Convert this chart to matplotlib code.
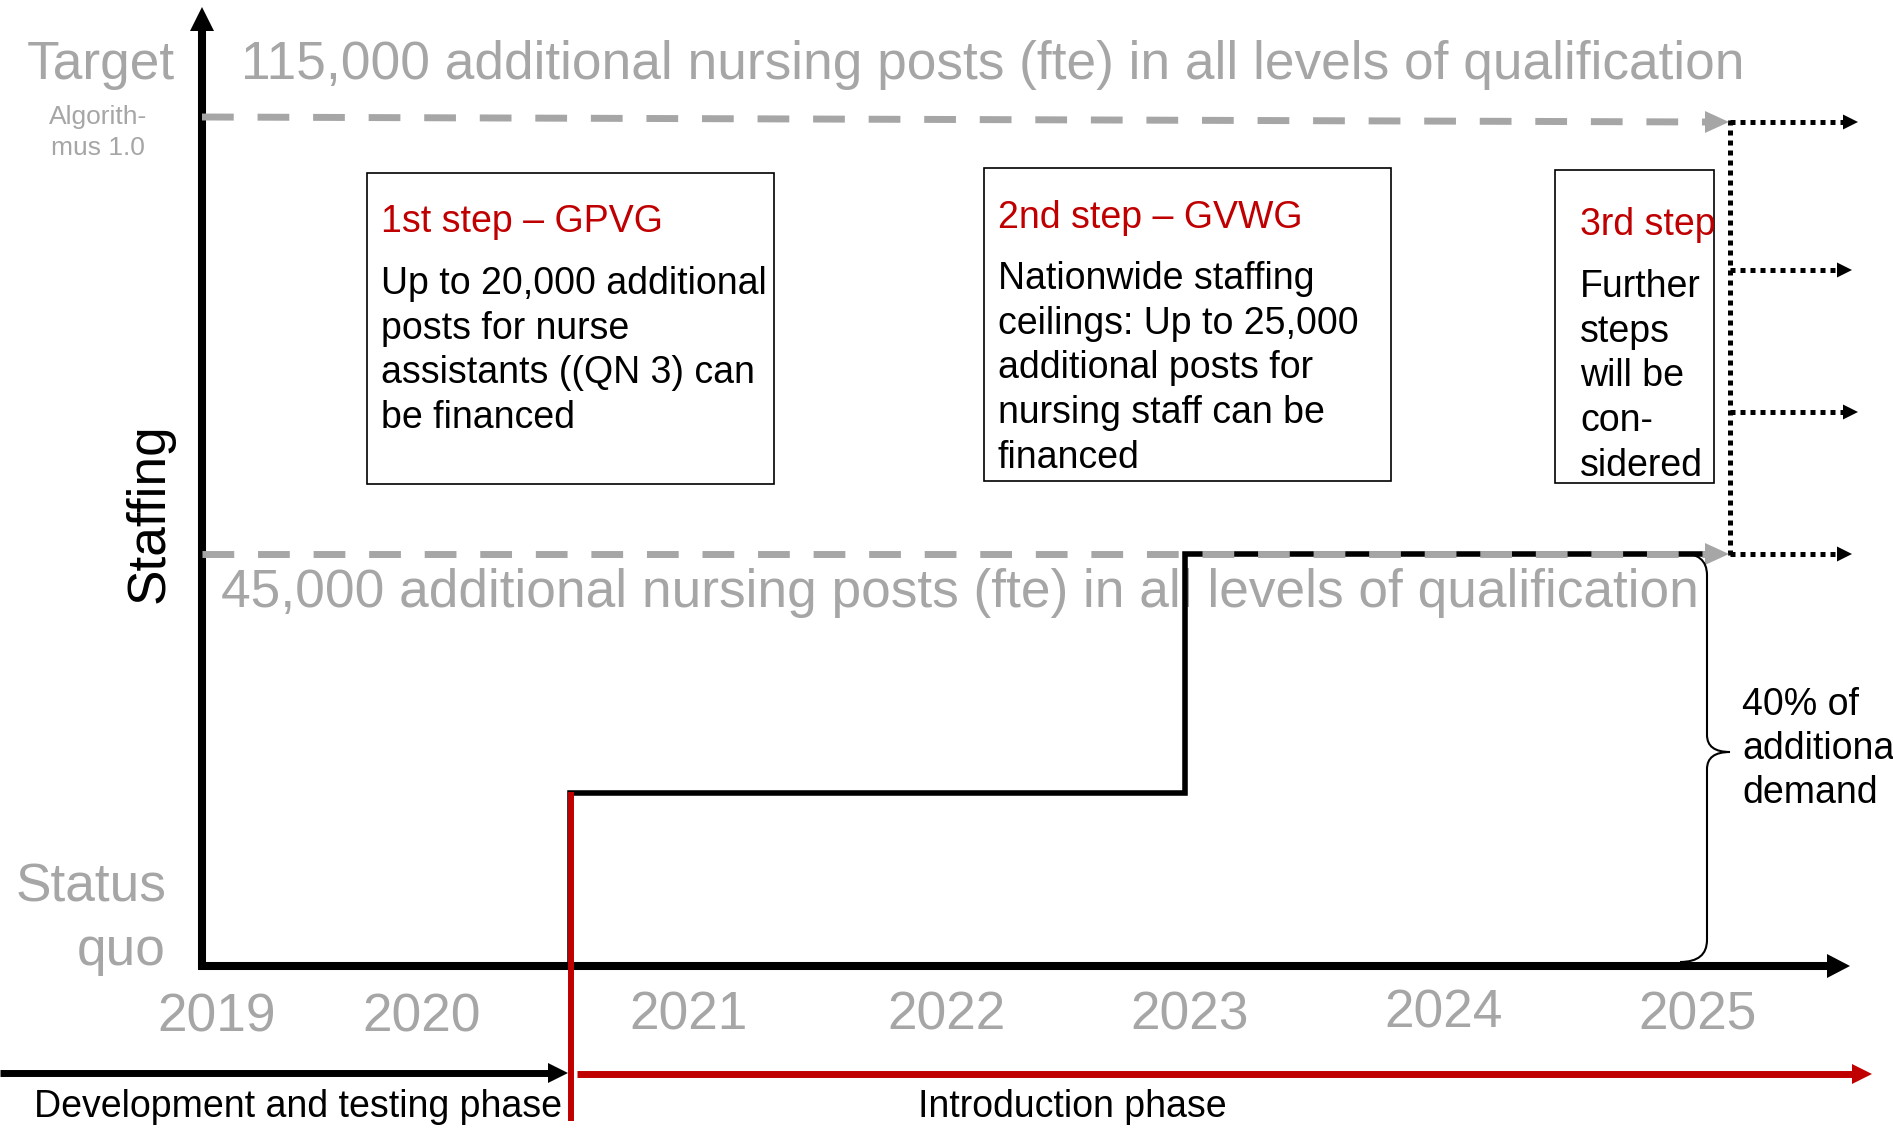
import matplotlib
matplotlib.use("Agg")
import matplotlib.pyplot as plt
from matplotlib.patches import Polygon, Rectangle, PathPatch
from matplotlib.path import Path

plt.rcParams['font.family'] = ['Liberation Sans', 'DejaVu Sans']

# ---------------- data (schematic canvas units, y grows downward) ----------------
years = ['2019', '2020', '2021', '2022', '2023', '2024', '2025']
year_x = [217, 422, 689, 946, 1190, 1444, 1698]
year_base = [1031, 1031, 1030, 1030, 1030, 1027, 1030]

# staffing step line (status quo -> step 1 -> step 2)
step_x = [570, 570, 1185, 1185, 1705]
step_y = [966, 793, 793, 554, 554]

target_line_x = [202, 1705]
target_line_y = [117, 122]
level2_line_x = [202, 1705]
level2_line_y = [554, 554]

future_y = [122, 270, 412, 554]
future_tip = [1858, 1852, 1858, 1852]

target_text = "115,000 additional nursing posts (fte) in all levels of qualification"
level2_text = "45,000 additional nursing posts (fte) in all levels of qualification"

boxes = [
    dict(rect=(367, 173, 407, 311), x=381, title="1st step \u2013 GPVG", tbase=232,
         body=["Up to 20,000 additional", "posts for nurse",
               "assistants ((QN 3) can", "be financed"], bbase=294),
    dict(rect=(984, 168, 407, 313), x=998, title="2nd step \u2013 GVWG", tbase=228,
         body=["Nationwide staffing", "ceilings: Up to 25,000",
               "additional posts for", "nursing staff can be", "financed"], bbase=289),
    dict(rect=(1555, 170, 159, 313), x=1580, title="3rd step", tbase=235,
         body=["Further", "steps", "will be", "con-", "sidered"], bbase=297),
]
share_lines = ["40% of", "additional", "demand"]
phases = ["Development and testing phase", "Introduction phase"]
phase_x = [298, 1072]

GRAY = '#A6A6A6'
RED = '#C00000'
LINE_SP = 44.7
BIG = 38.3
MID = 27.0

fig = plt.figure(figsize=(18.93, 11.31), dpi=100)
ax = fig.add_axes([0, 0, 1, 1])
ax.set_xlim(0, 1893)
ax.set_ylim(1131, 0)
ax.axis('off')


def head(tx, ty, direction, length, half, color, z=5):
    if direction == 'right':
        pts = [(tx, ty), (tx - length, ty - half), (tx - length, ty + half)]
    else:  # up
        pts = [(tx, ty), (tx - half, ty + length), (tx + half, ty + length)]
    ax.add_patch(Polygon(pts, closed=True, facecolor=color, edgecolor='none', zorder=z))


# ---------------- axes ----------------
ax.plot([202, 202, 1828], [30, 966, 966], color='black', lw=5.8,
        solid_joinstyle='miter', solid_capstyle='butt', zorder=4)
head(202, 7, 'up', 24, 12, 'black')
head(1850, 966, 'right', 23, 12, 'black')

# ---------------- step line ----------------
ax.plot(step_x, step_y, color='black', lw=4.0, solid_joinstyle='miter', zorder=3)

# ---------------- dashed gray level lines ----------------
for lx, ly in [(target_line_x, target_line_y), (level2_line_x, level2_line_y)]:
    ax.plot(lx, ly, color=GRAY, lw=5.0, linestyle=(0, (4.57, 3.43)),
            dash_capstyle='butt', zorder=4)
    head(1729, ly[-1], 'right', 24, 11, GRAY)

# ---------------- dotted future arrows ----------------
ax.plot([1730, 1730], [120, 556], color='black', lw=3.6, linestyle=(0, (1, 1)),
        dash_capstyle='butt', zorder=4)
for fy, ft in zip(future_y, future_tip):
    ax.plot([1730, ft - 15], [fy, fy], color='black', lw=3.6, linestyle=(0, (1, 1)),
            dash_capstyle='butt', zorder=4)
    head(ft, fy, 'right', 15, 7.5, 'black')

# ---------------- red phase boundary ----------------
ax.plot([571, 571], [792, 1121], color=RED, lw=4.3, solid_capstyle='butt', zorder=6)

# ---------------- phase arrows ----------------
ax.plot([0, 550], [1073, 1073], color='black', lw=5.0, solid_capstyle='butt', zorder=4)
head(568, 1073, 'right', 20, 10, 'black')
ax.plot([577, 1853], [1074, 1074], color=RED, lw=5.0, solid_capstyle='butt', zorder=4)
head(1872, 1074, 'right', 20, 10, RED)
for txt, px in zip(phases, phase_x):
    ax.text(px, 1117, txt, fontsize=MID, color='black', ha='center', va='baseline')

# ---------------- year labels ----------------
for y, x, b in zip(years, year_x, year_base):
    ax.text(x, b, y, fontsize=BIG, color=GRAY, ha='center', va='baseline')

# ---------------- left labels ----------------
ax.text(175, 79, "Target", fontsize=BIG, color=GRAY, ha='right', va='baseline')
ax.text(98, 124, "Algorith-", fontsize=19, color=GRAY, ha='center', va='baseline')
ax.text(98, 155, "mus 1.0", fontsize=19, color=GRAY, ha='center', va='baseline')
ax.text(166, 901, "Status", fontsize=BIG, color=GRAY, ha='right', va='baseline')
ax.text(166, 965, "quo", fontsize=BIG, color=GRAY, ha='right', va='baseline')
ax.text(150, 513, "Staffing", fontsize=BIG, color='black', ha='center', va='center',
        rotation=90)

# ---------------- level texts ----------------
ax.text(241, 79, target_text, fontsize=BIG, color=GRAY, ha='left', va='baseline', zorder=2)
ax.text(221, 607, level2_text, fontsize=BIG, color=GRAY, ha='left', va='baseline', zorder=2)

# ---------------- boxes ----------------
for b in boxes:
    x0, y0, w, h = b['rect']
    ax.add_patch(Rectangle((x0, y0), w, h, facecolor='white', edgecolor='black',
                           lw=1.2, zorder=3))
    ax.text(b['x'], b['tbase'], b['title'], fontsize=MID, color=RED,
            ha='left', va='baseline', zorder=4)
    for i, line in enumerate(b['body']):
        ax.text(b['x'], b['bbase'] + i * LINE_SP, line, fontsize=MID, color='black',
                ha='left', va='baseline', zorder=4)

# ---------------- brace ----------------
verts = [(1680, 553), (1707, 553), (1707, 575),
         (1707, 735),
         (1707, 752), (1730, 752),
         (1707, 752), (1707, 769),
         (1707, 940),
         (1707, 962), (1680, 962)]
codes = [Path.MOVETO, Path.CURVE3, Path.CURVE3,
         Path.LINETO,
         Path.CURVE3, Path.CURVE3,
         Path.CURVE3, Path.CURVE3,
         Path.LINETO,
         Path.CURVE3, Path.CURVE3]
ax.add_patch(PathPatch(Path(verts, codes), facecolor='none', edgecolor='black',
                       lw=1.5, zorder=5))
for i, line in enumerate(share_lines):
    ax.text(1742, 715 + i * 44, line, fontsize=MID, color='black',
            ha='left', va='baseline')

fig.savefig('out.png', dpi=100)
